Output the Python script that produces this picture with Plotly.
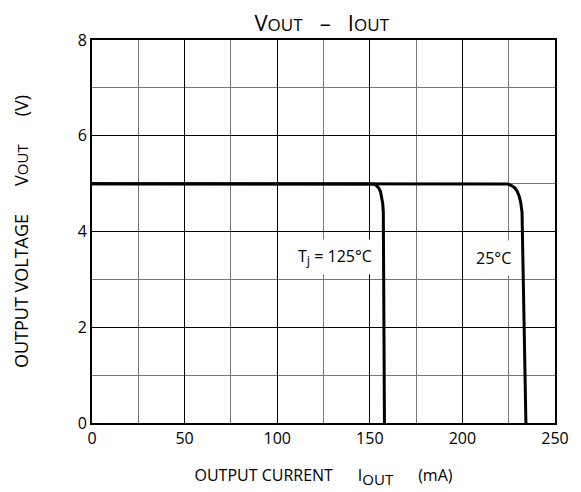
import plotly.graph_objects as go

# Data
i_125 = [0, 150, 152, 153.5, 154.8, 155.8, 156.5, 157.0, 157.3, 157.9]
v_125 = [5.0, 5.0, 4.99, 4.96, 4.91, 4.83, 4.72, 4.58, 4.4, 0.0]
i_25 = [0, 222, 224.5, 226.5, 228.3, 229.7, 230.8, 231.6, 232.2, 234.3]
v_25 = [5.0, 5.0, 4.99, 4.96, 4.91, 4.83, 4.72, 4.58, 4.4, 0.0]

x_ticks = [0, 50, 100, 150, 200, 250]
y_ticks = [0, 2, 4, 6, 8]

font_family = "Open Sans, Noto Sans, sans-serif"

fig = go.Figure()
for xs, ys in [(i_125, v_125), (i_25, v_25)]:
    fig.add_trace(go.Scatter(x=xs, y=ys, mode="lines",
                             line=dict(color="black", width=3),
                             showlegend=False, hoverinfo="skip"))

sp = "&nbsp;"
fig.add_annotation(x=154.4, y=3.47,
                   text="T<sub><span style='font-size:13px'>j</span></sub>" + sp + "=" + sp + "125°C",
                   showarrow=False,
                   xanchor="right", yanchor="middle", bgcolor="white", borderpad=5,
                   font=dict(size=16, color="black", family=font_family))
fig.add_annotation(x=229.8, y=3.44, text="25°C", showarrow=False,
                   xanchor="right", yanchor="middle", bgcolor="white", borderpad=6,
                   font=dict(size=16, color="black", family=font_family))

fig.update_layout(
    width=581, height=492,
    margin=dict(l=84, r=34, t=32, b=77),
    paper_bgcolor="white", plot_bgcolor="white",
    font=dict(family=font_family, color="black", size=16),
    title=dict(text="V<span style='font-size:17px'>OUT</span>" + sp * 3 + "–" + sp * 3 +
                    "I<span style='font-size:17px'>OUT</span>",
               xref="container", yref="container",
               x=0.540, xanchor="center", y=0.968, yanchor="middle",
               font=dict(size=22, family=font_family, color="black")),
    xaxis=dict(range=[0, 250], tickvals=x_ticks, ticktext=[str(v) for v in x_ticks],
               showgrid=True, gridcolor="black", gridwidth=1,
               minor=dict(dtick=25, showgrid=True, gridcolor="#777777", gridwidth=1),
               showline=True, linecolor="black", linewidth=2, mirror=True,
               zeroline=False, ticks="", ticklen=0,
               title=dict(text="OUTPUT CURRENT" + sp * 6 +
                               "I<sub><span style='font-size:15px'>OUT</span></sub>" + sp * 6 + "(mA)",
                          standoff=22, font=dict(size=16))),
    yaxis=dict(range=[0, 8], tickvals=y_ticks, ticktext=[str(v) for v in y_ticks],
               showgrid=True, gridcolor="black", gridwidth=1,
               minor=dict(dtick=1, showgrid=True, gridcolor="#777777", gridwidth=1),
               showline=True, linecolor="black", linewidth=2, mirror=True,
               zeroline=False, ticks="", ticklen=0,
               title=dict(text="OUTPUT VOLTAGE" + sp * 6 +
                               "V<span style='font-size:15px'>OUT</span>" + sp * 6 + "(V)",
                          standoff=44, font=dict(size=18))),
)

fig.write_html("out.html")
